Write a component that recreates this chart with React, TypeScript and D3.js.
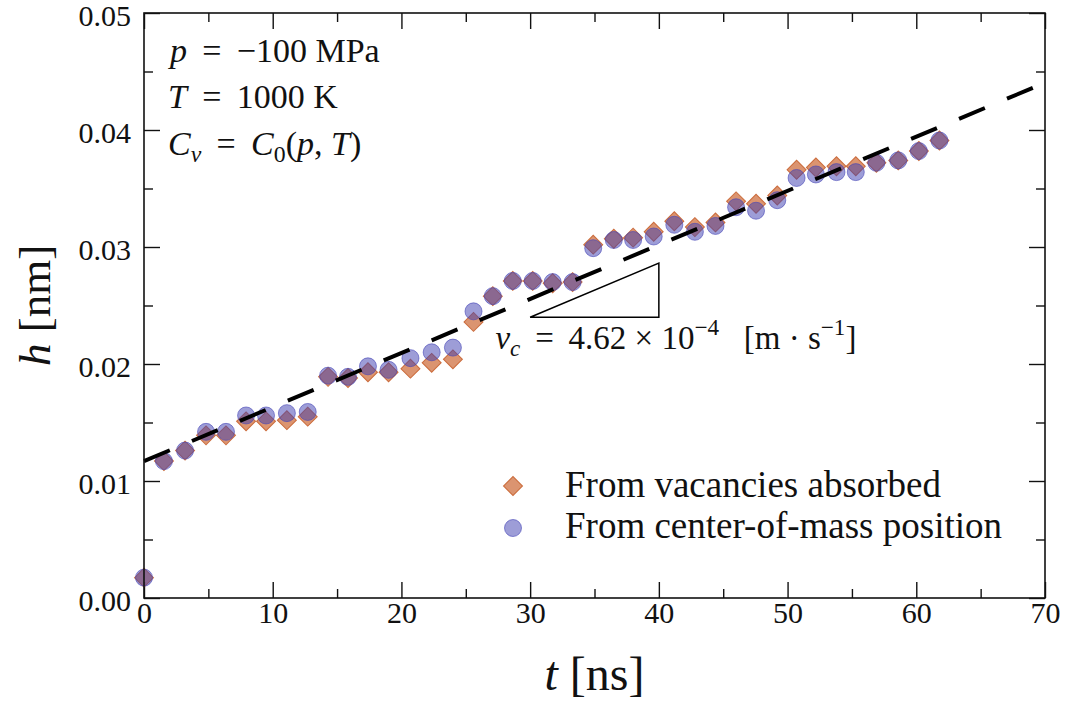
import React, { useEffect, useRef } from 'react';
import * as d3 from 'd3';

// time [ns]
const tNs = [0, 1.55, 3.19, 4.82, 6.37, 7.93, 9.48, 11.1, 12.72, 14.3, 15.85, 17.4, 19.0, 20.7, 22.35, 24.0,
  25.6, 27.1, 28.65, 30.2, 31.75, 33.3, 34.9, 36.5, 38.0, 39.6, 41.2, 42.8, 44.4, 46.0, 47.55, 49.2,
  50.7, 52.2, 53.8, 55.3, 56.9, 58.6, 60.2, 61.8];

// h [nm] from vacancies absorbed (diamonds)
const hVacancies = [0.00174, 0.0117, 0.0126, 0.0139, 0.0139, 0.0151, 0.0151, 0.0152, 0.0155, 0.0189, 0.0188,
  0.0193, 0.0193, 0.0196, 0.0201, 0.0204, 0.0236, 0.0258, 0.0271, 0.0271, 0.0269, 0.0270, 0.0302, 0.0307,
  0.0308, 0.0313, 0.0322, 0.0317, 0.0321, 0.0339, 0.0337, 0.0344, 0.0366, 0.0368, 0.0369, 0.0369, 0.0372,
  0.0374, 0.0382, 0.0391];

// h [nm] from center-of-mass position (circles)
const hCenterOfMass = [0.00174, 0.0117, 0.0126, 0.0142, 0.0142, 0.0156, 0.0156, 0.0158, 0.0159, 0.0190, 0.0189,
  0.0198, 0.0195, 0.0205, 0.0210, 0.0214, 0.0245, 0.0258, 0.0271, 0.0271, 0.0270, 0.0270, 0.0299, 0.0306,
  0.0306, 0.0309, 0.0319, 0.0313, 0.0318, 0.0334, 0.0331, 0.0340, 0.0359, 0.0362, 0.0364, 0.0364, 0.0372,
  0.0374, 0.0382, 0.0391];

const xMajor = [0, 10, 20, 30, 40, 50, 60, 70];
const xMinor = [5, 15, 25, 35, 45, 55, 65];
const yMajor = [0, 0.01, 0.02, 0.03, 0.04, 0.05];
const yMinor = [0.005, 0.015, 0.025, 0.035, 0.045];

// linear fit h = h0 + vc * t  (vc in nm/ns == m/s)
const fitVc = 4.62e-4;
const fitH0 = 0.0117;
const fitT = [0, 70];

// slope triangle
const triT = [30, 40];
const triH = 0.024;

const legendLabels = ['From vacancies absorbed', 'From center-of-mass position'];

const FONT = '"Liberation Serif", "Times New Roman", serif';
const DIAMOND_FILL = '#cc6633';
const DIAMOND_EDGE = '#c8622f';
const CIRCLE_FILL = '#3c3cb0';
const CIRCLE_EDGE = '#4646b8';
const SP = ' \u2009'; // wider math spacing around relations

type Seg = { s: string; i?: boolean; sub?: boolean; sup?: boolean };

function mathText(g: any, x: number, y: number, segs: Seg[], size: number, anchor = 'start') {
  const t = g.append('text')
    .attr('x', x).attr('y', y)
    .attr('font-size', size)
    .attr('text-anchor', anchor)
    .attr('fill', '#111')
    .style('font-family', FONT)
    .style('white-space', 'pre');
  let shift = 0;
  segs.forEach(seg => {
    const target = seg.sub ? size * 0.22 : seg.sup ? -size * 0.42 : 0;
    t.append('tspan')
      .attr('dy', target - shift)
      .attr('font-style', seg.i ? 'italic' : 'normal')
      .attr('font-size', seg.sub || seg.sup ? size * 0.7 : size)
      .text(seg.s);
    shift = target;
  });
  return t;
}

function Chart() {
  const svgRef = useRef<SVGSVGElement>(null);

  useEffect(() => {
    if (!svgRef.current) return;
    const width = 1072;
    const height = 704;
    const margin = { top: 13, right: 27, bottom: 106, left: 144 };

    const svg = d3.select(svgRef.current);
    svg.selectAll('*').remove();
    svg.attr('width', width).attr('height', height).style('font-family', FONT);

    const x = d3.scaleLinear().domain([0, 70]).range([margin.left, width - margin.right]);
    const y = d3.scaleLinear().domain([0, 0.05]).range([height - margin.bottom, margin.top]);
    const [x0, x1] = x.range();
    const [y0, y1] = y.range();

    // axes: inward ticks on all four sides
    const styleAxis = (g: any) => {
      g.attr('font-family', null);
      g.select('.domain').remove();
      g.selectAll('line').attr('stroke', '#111').attr('stroke-width', 1.4);
      g.selectAll('text').style('font-family', FONT).attr('font-size', 30).attr('fill', '#111');
    };
    const major = 16;
    const minor = 9;

    svg.append('g').attr('transform', `translate(0,${y0})`)
      .call(d3.axisBottom(x).tickValues(xMajor).tickSizeInner(-major).tickSizeOuter(0).tickPadding(4).tickFormat(d3.format('d')))
      .call(styleAxis);
    svg.append('g').attr('transform', `translate(0,${y0})`)
      .call(d3.axisBottom(x).tickValues(xMinor).tickSizeInner(-minor).tickSizeOuter(0).tickFormat(() => ''))
      .call(styleAxis);
    svg.append('g').attr('transform', `translate(0,${y1})`)
      .call(d3.axisTop(x).tickValues(xMajor).tickSizeInner(-major).tickSizeOuter(0).tickFormat(() => ''))
      .call(styleAxis);
    svg.append('g').attr('transform', `translate(0,${y1})`)
      .call(d3.axisTop(x).tickValues(xMinor).tickSizeInner(-minor).tickSizeOuter(0).tickFormat(() => ''))
      .call(styleAxis);
    const yAxis = svg.append('g').attr('transform', `translate(${x0},0)`)
      .call(d3.axisLeft(y).tickValues(yMajor).tickSizeInner(-major).tickSizeOuter(0).tickPadding(13).tickFormat(d3.format('.2f')))
      .call(styleAxis);
    yAxis.selectAll('text').attr('dy', '0.4em');
    svg.append('g').attr('transform', `translate(${x0},0)`)
      .call(d3.axisLeft(y).tickValues(yMinor).tickSizeInner(-minor).tickSizeOuter(0).tickFormat(() => ''))
      .call(styleAxis);
    svg.append('g').attr('transform', `translate(${x1},0)`)
      .call(d3.axisRight(y).tickValues(yMajor).tickSizeInner(-major).tickSizeOuter(0).tickFormat(() => ''))
      .call(styleAxis);
    svg.append('g').attr('transform', `translate(${x1},0)`)
      .call(d3.axisRight(y).tickValues(yMinor).tickSizeInner(-minor).tickSizeOuter(0).tickFormat(() => ''))
      .call(styleAxis);

    // data markers
    const diamond = d3.symbol().type(d3.symbolSquare).size(180);
    const plot = svg.append('g');
    plot.selectAll('path.vac')
      .data(tNs.map((t, i) => [t, hVacancies[i]]))
      .join('path')
      .attr('class', 'vac')
      .attr('d', diamond as any)
      .attr('transform', d => `translate(${x(d[0])},${y(d[1])}) rotate(45)`)
      .attr('fill', DIAMOND_FILL).attr('fill-opacity', 0.7)
      .attr('stroke', DIAMOND_EDGE).attr('stroke-opacity', 0.9).attr('stroke-width', 1);

    plot.selectAll('circle.com')
      .data(tNs.map((t, i) => [t, hCenterOfMass[i]]))
      .join('circle')
      .attr('class', 'com')
      .attr('cx', d => x(d[0])).attr('cy', d => y(d[1])).attr('r', 8.5)
      .attr('fill', CIRCLE_FILL).attr('fill-opacity', 0.5)
      .attr('stroke', CIRCLE_EDGE).attr('stroke-opacity', 0.6).attr('stroke-width', 1);

    // fit line
    const line = d3.line<number>().x(t => x(t)).y(t => y(fitH0 + fitVc * t));
    svg.append('path')
      .attr('d', line(fitT))
      .attr('fill', 'none').attr('stroke', '#000').attr('stroke-width', 4)
      .attr('stroke-dasharray', '28 24');

    // slope triangle
    const tri = [[triT[0], triH], [triT[1], triH], [triT[1], triH + fitVc * (triT[1] - triT[0])]];
    svg.append('path')
      .attr('d', d3.line<number[]>().x(d => x(d[0])).y(d => y(d[1]))(tri) + 'Z')
      .attr('fill', 'none').attr('stroke', '#000').attr('stroke-width', 1.5);

    mathText(svg, x(27.3), y(0.0213), [
      { s: 'v', i: true }, { s: 'c', i: true, sub: true }, { s: `${SP}=${SP}4.62 × 10` }, { s: '−4', sup: true },
      { s: '   [m · s' }, { s: '−1', sup: true }, { s: ']' },
    ], 33);

    // parameter notes
    mathText(svg, 170, 62, [{ s: 'p', i: true }, { s: `${SP}=${SP}−100 MPa` }], 34);
    mathText(svg, 168, 108, [{ s: 'T', i: true }, { s: `${SP}=${SP}1000 K` }], 34);
    mathText(svg, 168, 155, [
      { s: 'C', i: true }, { s: 'v', i: true, sub: true }, { s: `${SP}=${SP}` }, { s: 'C', i: true }, { s: '0', sub: true },
      { s: '(' }, { s: 'p', i: true }, { s: ', ' }, { s: 'T', i: true }, { s: ')' },
    ], 34);

    // legend
    const lg = svg.append('g');
    lg.append('path')
      .attr('d', diamond as any)
      .attr('transform', 'translate(513,486) rotate(45)')
      .attr('fill', DIAMOND_FILL).attr('fill-opacity', 0.7)
      .attr('stroke', DIAMOND_EDGE).attr('stroke-opacity', 0.9).attr('stroke-width', 1);
    lg.append('circle')
      .attr('cx', 513).attr('cy', 528).attr('r', 8.5)
      .attr('fill', CIRCLE_FILL).attr('fill-opacity', 0.5)
      .attr('stroke', CIRCLE_EDGE).attr('stroke-opacity', 0.6).attr('stroke-width', 1);
    legendLabels.forEach((label, i) => {
      lg.append('text')
        .attr('x', 565).attr('y', 497 + i * 41)
        .attr('font-size', 37).attr('fill', '#111')
        .style('font-family', FONT)
        .text(label);
    });

    // frame
    svg.append('rect')
      .attr('x', x0).attr('y', y1).attr('width', x1 - x0).attr('height', y0 - y1)
      .attr('fill', 'none').attr('stroke', '#111').attr('stroke-width', 1.6);

    // axis titles
    mathText(svg, (x0 + x1) / 2, 690, [{ s: 't', i: true }, { s: ' [ns]' }], 48, 'middle');
    const yl = svg.append('g').attr('transform', `translate(50,${(y0 + y1) / 2})rotate(-90)`);
    mathText(yl, 0, 0, [{ s: 'h', i: true }, { s: ' [nm]' }], 45, 'middle');
  }, []);

  return <svg ref={svgRef} style={{ position: 'absolute', left: 0, top: 0, background: '#fff' }}></svg>;
}

export default function App() {
  return <Chart />;
}
